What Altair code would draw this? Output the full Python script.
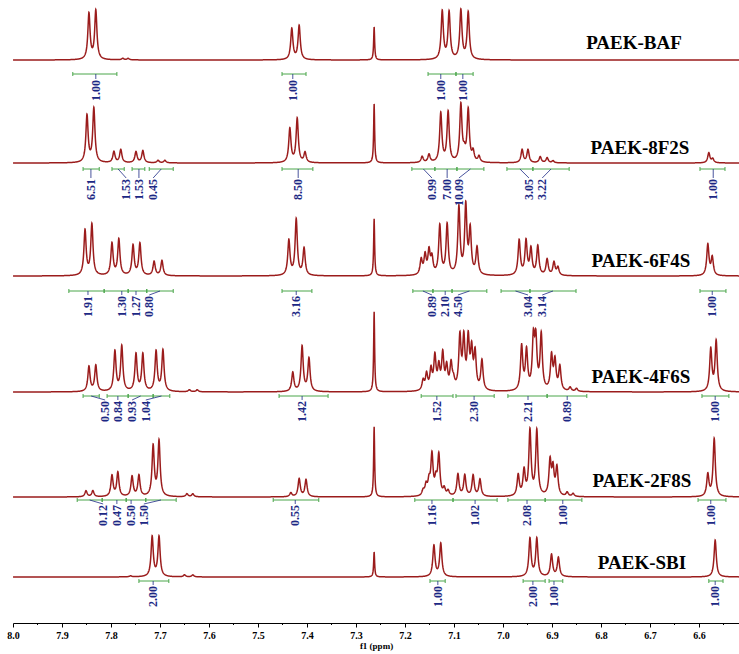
import numpy as np
import pandas as pd
import altair as alt

# ---------------- data ----------------
spectra = ["PAEK-BAF", "PAEK-8F2S", "PAEK-6F4S", "PAEK-4F6S", "PAEK-2F8S", "PAEK-SBI"]
solvent_ppm = 7.263

baf_ppm = [7.845, 7.831, 7.776, 7.765, 7.431, 7.416, 7.263, 7.124, 7.110, 7.086, 7.071]
baf_int = [46, 49, 1.5, 1.5, 31, 34, 33, 48, 47, 49, 47]

f8_ppm = [7.849, 7.835, 7.794, 7.780, 7.749, 7.735, 7.704, 7.690, 7.435, 7.420, 7.404, 7.263,
          7.165, 7.151, 7.127, 7.112, 7.086, 7.079, 7.071, 7.061, 7.049, 6.961, 6.949, 6.924,
          6.910, 6.898, 6.580, 6.572]
f8_int = [47, 54, 11, 13, 11, 12, 2.5, 2.5, 34, 44, 10, 59, 6, 8, 49, 50, 57, 8, 52, 10, 6,
          13, 13, 6, 5, 2, 10, 4]

f6_ppm = [7.853, 7.839, 7.798, 7.784, 7.755, 7.741, 7.712, 7.696, 7.437, 7.422, 7.406, 7.263,
          7.167, 7.159, 7.151, 7.145, 7.129, 7.114, 7.090, 7.076, 7.067, 7.053, 6.967, 6.953,
          6.943, 6.929, 6.910, 6.896, 6.888, 6.582, 6.573]
f6_int = [45, 51, 32, 36, 30, 32, 14, 15, 35, 56, 27, 57, 15, 19, 23, 16, 49, 50, 67, 68, 44,
          27, 35, 34, 26, 29, 16, 13, 8, 31, 18]

f4_ppm = [7.845, 7.831, 7.792, 7.778, 7.749, 7.735, 7.708, 7.694, 7.640, 7.624, 7.429, 7.410,
          7.396, 7.263, 7.163, 7.156, 7.147, 7.139, 7.131, 7.123, 7.115, 7.106, 7.101, 7.088,
          7.080, 7.071, 7.064, 7.057, 7.043, 6.962, 6.952, 6.938, 6.933, 6.922, 6.901, 6.894,
          6.884, 6.863, 6.850, 6.576, 6.565]
f4_int = [25, 26, 40, 45, 37, 37, 40, 41, 2, 2, 19, 45, 33, 80, 10, 16, 20, 33, 22, 35, 22, 25,
          8, 52, 49, 49, 37, 36, 30, 44, 39, 49, 47, 55, 34, 29, 24, 4, 3, 42, 50]

f2_ppm = [7.851, 7.837, 7.798, 7.786, 7.757, 7.743, 7.714, 7.702, 7.645, 7.633, 7.433, 7.416,
          7.402, 7.263, 7.163, 7.157, 7.151, 7.145, 7.137, 7.131, 7.120, 7.112, 7.092, 7.078,
          7.061, 7.047, 6.969, 6.957, 6.945, 6.931, 6.904, 6.898, 6.890, 6.869, 6.857, 6.582,
          6.569]
f2_int = [6, 6, 21, 24, 20, 21, 50, 55, 3, 3, 4, 18, 17, 70, 5, 10, 13, 40, 14, 40, 7, 5, 22,
          21, 21, 17, 21, 25, 65, 65, 34, 26, 28, 4, 3, 22, 58]

sb_ppm = [7.760, 7.716, 7.702, 7.650, 7.633, 7.263, 7.141, 7.127, 6.945, 6.931, 6.901, 6.887, 6.567]
sb_int = [1, 40, 40, 2, 2, 25, 31, 33, 38, 38, 22, 19, 37]

peak_ppm = [baf_ppm, f8_ppm, f6_ppm, f4_ppm, f2_ppm, sb_ppm]
peak_int = [baf_int, f8_int, f6_int, f4_int, f2_int, sb_int]

# integrals: region start, region end (ppm), integral value, label position (ppm)
baf_from = [7.878, 7.451, 7.153, 7.096]
baf_to = [7.788, 7.402, 7.096, 7.061]
baf_val = ["1.00", "1.00", "1.00", "1.00"]
baf_lab = [7.831, 7.429, 7.127, 7.082]

f8_from = [7.857, 7.798, 7.757, 7.722, 7.451, 7.186, 7.139, 7.094, 6.992, 6.939, 6.598]
f8_to = [7.824, 7.773, 7.731, 7.673, 7.388, 7.139, 7.094, 7.039, 6.939, 6.865, 6.547]
f8_val = ["6.51", "1.53", "1.53", "0.45", "8.50", "0.99", "7.00", "10.09", "3.05", "3.22", "1.00"]
f8_lab = [7.841, 7.769, 7.743, 7.714, 7.418, 7.145, 7.114, 7.090, 6.947, 6.920, 6.571]

f6_from = [7.886, 7.814, 7.765, 7.727, 7.451, 7.184, 7.143, 7.104, 7.004, 6.945, 6.598]
f6_to = [7.814, 7.765, 7.727, 7.673, 7.390, 7.143, 7.104, 7.033, 6.945, 6.851, 6.545]
f6_val = ["1.91", "1.30", "1.27", "0.80", "3.16", "0.89", "2.10", "4.50", "3.04", "3.14", "1.00"]
f6_lab = [7.847, 7.778, 7.749, 7.722, 7.422, 7.145, 7.118, 7.092, 6.949, 6.920, 6.573]

f4_from = [7.857, 7.808, 7.765, 7.714, 7.457, 7.167, 7.096, 6.990, 6.910, 6.594]
f4_to = [7.824, 7.765, 7.714, 7.680, 7.357, 7.102, 7.018, 6.910, 6.829, 6.539]
f4_val = ["0.50", "0.84", "0.93", "1.04", "1.42", "1.52", "2.30", "2.21", "0.89", "1.00"]
f4_lab = [7.812, 7.786, 7.757, 7.729, 7.410, 7.135, 7.059, 6.949, 6.869, 6.567]

f2_from = [7.869, 7.818, 7.769, 7.729, 7.469, 7.180, 7.102, 6.990, 6.914, 6.602]
f2_to = [7.818, 7.769, 7.729, 7.667, 7.376, 7.102, 7.012, 6.914, 6.839, 6.545]
f2_val = ["0.12", "0.47", "0.50", "1.50", "0.55", "1.16", "1.02", "2.08", "1.00", "1.00"]
f2_lab = [7.816, 7.788, 7.759, 7.733, 7.424, 7.145, 7.057, 6.951, 6.878, 6.576]

sb_from = [7.743, 7.149, 6.959, 6.906, 6.580]
sb_to = [7.682, 7.118, 6.914, 6.878, 6.551]
sb_val = ["2.00", "1.00", "2.00", "1.00", "1.00"]
sb_lab = [7.714, 7.133, 6.939, 6.896, 6.567]

int_from = [baf_from, f8_from, f6_from, f4_from, f2_from, sb_from]
int_to = [baf_to, f8_to, f6_to, f4_to, f2_to, sb_to]
int_val = [baf_val, f8_val, f6_val, f4_val, f2_val, sb_val]
int_lab = [baf_lab, f8_lab, f6_lab, f4_lab, f2_lab, sb_lab]

tick_values = [8.0, 7.9, 7.8, 7.7, 7.6, 7.5, 7.4, 7.3, 7.2, 7.1, 7.0, 6.9, 6.8, 6.7, 6.6]
minor_ticks = [7.95, 7.85, 7.75, 7.65, 7.55, 7.45, 7.35, 7.25, 7.15, 7.05, 6.95, 6.85, 6.75, 6.65, 6.55]

# ---------------- layout / style ----------------
W, H = 726, 623
PPM_LEFT, PPM_RIGHT = 8.0, 6.5184
PX_PER_PPM = W / (PPM_LEFT - PPM_RIGHT)
baseline_px = [60, 163, 276, 392, 497, 577]
bar_px = [74, 169, 291, 396, 500, 581]
label_gap = [5, 9, 4, 4, 4, 4]
name_px = [(621, 43), (627, 148), (628, 261), (628, 377), (629, 481), (629, 563)]
LINEW, SOLVW = 0.0027, 0.0012
RED, GREEN, NAVY = "#9b1c1c", "#4aa64a", "#1c2884"
SERIF = "Liberation Serif"

def yv(px):
    return H - px

# spectrum traces (Lorentzian line shape at the read peak positions)
grid = np.arange(PPM_RIGHT, PPM_LEFT + 1e-9, 0.0005)
rows = []
for k, name in enumerate(spectra):
    xs = np.unique(np.concatenate([grid, np.array(peak_ppm[k])]))
    ys = np.zeros_like(xs)
    for p, h in zip(peak_ppm[k], peak_int[k]):
        w = SOLVW if abs(p - solvent_ppm) < 1e-6 else LINEW
        ys += h / (1 + ((xs - p) / w) ** 2)
    for x, y in zip(xs, ys):
        rows.append({"spectrum": name, "ppm": round(float(x), 5),
                     "yv": round(yv(baseline_px[k]) + float(y), 2)})
spec_df = pd.DataFrame(rows)

bars, ticks, conns, labels = [], [], [], []
for k in range(len(spectra)):
    yb = yv(bar_px[k])
    for a, b, v, l in zip(int_from[k], int_to[k], int_val[k], int_lab[k]):
        bars.append({"x0": a, "x1": b, "yb": yb})
        for e in (a, b):
            ticks.append({"xt": e, "yt0": yb - 2, "yt1": yb + 2})
        mid = (a + b) / 2
        anchor = l if abs(l - mid) < 0.012 else mid
        ylab = yv(bar_px[k] + label_gap[k])
        conns.append({"xa": anchor, "xl": l, "yc0": yb, "yc1": ylab})
        labels.append({"xl": l, "yl": ylab - 1, "txt": v})
bar_df = pd.DataFrame(bars)
tick_df = pd.DataFrame(ticks)
conn_df = pd.DataFrame(conns)
lab_df = pd.DataFrame(labels)

name_df = pd.DataFrame({
    "name": spectra,
    "nx": [PPM_LEFT - px / PX_PER_PPM for px, _ in name_px],
    "ny": [yv(py) for _, py in name_px],
})
minor_df = pd.DataFrame({"m": minor_ticks})

xscale = alt.Scale(domain=[PPM_RIGHT, PPM_LEFT], reverse=True, nice=False, zero=False)
yscale = alt.Scale(domain=[0, H], nice=False, zero=False)
xaxis = alt.Axis(values=tick_values, format=".1f", title="f1 (ppm)", grid=False,
                 tickSize=4, tickColor="black", domainColor="black", domainWidth=1,
                 labelFont=SERIF, labelFontSize=10, labelFontWeight="bold", labelColor="black",
                 labelPadding=3, labelFlush=False, labelOverlap=False,
                 titleFont=SERIF, titleFontSize=9, titleFontWeight="bold", titleColor="black",
                 titlePadding=1)

def X(field):
    return alt.X(field, scale=xscale, axis=xaxis, title="f1 (ppm)")

def Y(field):
    return alt.Y(field, scale=yscale, axis=None)

lines = alt.Chart(spec_df).mark_line(color=RED, strokeWidth=1.5, clip=True).encode(
    x=X("ppm:Q"), y=Y("yv:Q"), detail="spectrum:N",
)
bar_layer = alt.Chart(bar_df).mark_rule(color=GREEN, strokeWidth=1).encode(
    x=X("x0:Q"), x2="x1:Q", y=Y("yb:Q"),
)
tick_layer = alt.Chart(tick_df).mark_rule(color=GREEN, strokeWidth=1).encode(
    x=X("xt:Q"), y=Y("yt0:Q"), y2="yt1:Q",
)
conn_layer = alt.Chart(conn_df).mark_rule(color=NAVY, strokeWidth=0.8).encode(
    x=X("xa:Q"), x2="xl:Q", y=Y("yc0:Q"), y2="yc1:Q",
)
lab_layer = alt.Chart(lab_df).mark_text(
    angle=270, align="right", baseline="middle", font=SERIF, fontSize=12,
    fontWeight="bold", color=NAVY,
).encode(x=X("xl:Q"), y=Y("yl:Q"), text="txt:N")
name_layer = alt.Chart(name_df).mark_text(
    font=SERIF, fontSize=19, fontWeight="bold", color="black", align="center", baseline="middle",
).encode(x=X("nx:Q"), y=Y("ny:Q"), text="name:N")
minor_layer = alt.Chart(minor_df).mark_rule(color="black", strokeWidth=1).encode(
    x=X("m:Q"), y=alt.value(H), y2=alt.value(H + 2),
)

chart = alt.layer(lines, bar_layer, tick_layer, conn_layer, lab_layer, name_layer, minor_layer).properties(
    width=W, height=H,
    padding={"left": 13, "top": 0, "right": 0, "bottom": 31},
    autosize=alt.AutoSizeParams(type="none"),
    background="white",
).configure_view(stroke=None)

chart.save("out.html", embed_options={"renderer": "svg", "actions": False})
